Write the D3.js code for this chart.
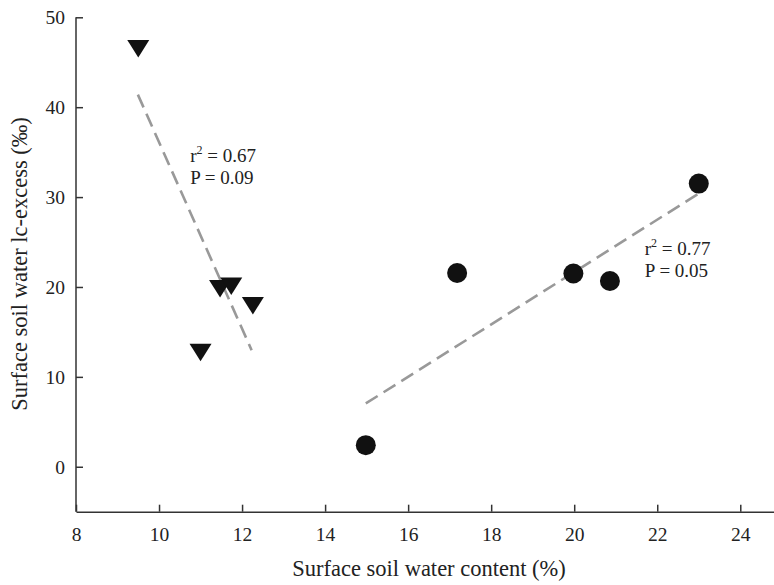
<!DOCTYPE html>
<html>
<head>
<meta charset="utf-8">
<script src="https://cdn.jsdelivr.net/npm/d3@7"></script>
<style>
  body { margin: 0; background: #fff; }
  text { font-family: 'Liberation Serif', 'Times New Roman', serif; fill: #222; }
  .axis path, .axis line { stroke: #333; stroke-width: 1.5; }
  .axis text { font-size: 19.5px; fill: #222; }
</style>
</head>
<body>
<div id="chart"></div>
<script>
// triangles (first group)
var triX = [9.5, 11.47, 11.74, 12.26, 11.0]
var triY = [46.5, 19.8, 20.07, 17.9, 12.7]

// circles (second group)
var circX = [14.98, 17.18, 19.98, 20.86, 23.0]
var circY = [2.4, 21.55, 21.5, 20.67, 31.5]

// fitted lines, end points
var triFitX = [9.49, 12.23]
var triFitY = [41.4, 12.97]
var circFitX = [14.98, 23.0]
var circFitY = [7.04, 30.4]

var xTicks = [8, 10, 12, 14, 16, 18, 20, 22, 24]
var yTicks = [0, 10, 20, 30, 40, 50]

var triStats = ['0.67', '0.09']
var circStats = ['0.77', '0.05']

// SVG area
var svgWidth = 774
var svgHeight = 585

var svg = d3.select('#chart')
  .append('svg')
  .attr('width', svgWidth)
  .attr('height', svgHeight)

var xScale = d3.scaleLinear()
  .domain([8, 25])
  .range([76, 781.8])

var yScale = d3.scaleLinear()
  .domain([-5, 50])
  .range([511.7, 17.3])

// axes, ticks point inward
var bottomAxis = d3.axisBottom(xScale)
  .tickValues(xTicks)
  .tickSizeInner(-7)
  .tickSizeOuter(0)
  .tickPadding(15.5)

var leftAxis = d3.axisLeft(yScale)
  .tickValues(yTicks)
  .tickSizeInner(-7)
  .tickSizeOuter(0)
  .tickPadding(11)

svg.append('g')
  .attr('class', 'axis')
  .attr('transform', `translate(0, ${yScale(-5)})`)
  .call(bottomAxis)

var yAxisG = svg.append('g')
  .attr('class', 'axis')
  .attr('transform', `translate(${xScale(8)}, 0)`)
  .call(leftAxis)

// y axis line only runs from -5 up to 50
yAxisG.select('.domain')
  .attr('d', `M0,${yScale(-5)}V${yScale(50)}`)

// axis titles
svg.append('text')
  .attr('x', 429)
  .attr('y', 576)
  .attr('text-anchor', 'middle')
  .style('font-size', '22.5px')
  .text('Surface soil water content (%)')

svg.append('text')
  .attr('transform', `translate(27, 264) rotate(-90)`)
  .attr('text-anchor', 'middle')
  .style('font-size', '22.5px')
  .text('Surface soil water lc-excess (‰)')

// regression lines
var line = d3.line()
  .x(d => xScale(d[0]))
  .y(d => yScale(d[1]))

svg.append('path')
  .datum(d3.zip(triFitX, triFitY))
  .attr('d', line)
  .attr('fill', 'none')
  .attr('stroke', '#999')
  .attr('stroke-width', 2.6)
  .attr('stroke-dasharray', '14,7')

svg.append('path')
  .datum(d3.zip(circFitX, circFitY))
  .attr('d', line)
  .attr('fill', 'none')
  .attr('stroke', '#999')
  .attr('stroke-width', 2.6)
  .attr('stroke-dasharray', '14,7')

// downward triangles
svg.selectAll('.tri')
  .data(d3.zip(triX, triY))
  .enter()
  .append('path')
  .attr('class', 'tri')
  .attr('d', 'M-11,-8.75L11,-8.75L0,8.75Z')
  .attr('transform', d => `translate(${xScale(d[0])}, ${yScale(d[1])})`)
  .attr('fill', '#111')

// circles
svg.selectAll('.dot')
  .data(d3.zip(circX, circY))
  .enter()
  .append('circle')
  .attr('class', 'dot')
  .attr('cx', d => xScale(d[0]))
  .attr('cy', d => yScale(d[1]))
  .attr('r', 10)
  .attr('fill', '#111')

// r2 and P labels
function addStats (x, y, stats) {
  var t = svg.append('text')
    .attr('x', xScale(x))
    .attr('y', yScale(y))
    .style('font-size', '19px')
  t.append('tspan').text('r')
  t.append('tspan').attr('dy', -8).style('font-size', '12px').text('2')
  t.append('tspan').attr('dy', 8).text(' = ' + stats[0])

  svg.append('text')
    .attr('x', xScale(x))
    .attr('y', yScale(y) + 22)
    .style('font-size', '19px')
    .text('P = ' + stats[1])
}

addStats(10.75, 33.85, triStats)
addStats(21.7, 23.58, circStats)
</script>
</body>
</html>
